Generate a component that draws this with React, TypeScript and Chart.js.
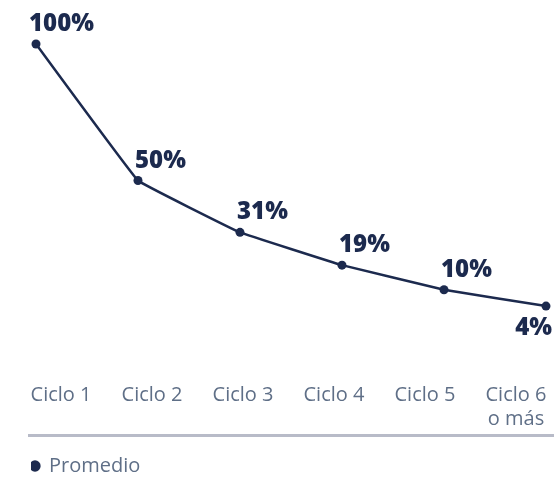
import React, { useEffect, useRef } from "react";
import { Chart, registerables } from "chart.js";

Chart.register(...registerables);

const categories = ["Ciclo 1", "Ciclo 2", "Ciclo 3", "Ciclo 4", "Ciclo 5", "Ciclo 6"];
const tickLabels: (string | string[])[] = ["Ciclo 1", "Ciclo 2", "Ciclo 3", "Ciclo 4", "Ciclo 5", ["Ciclo 6", "o más"]];
const seriesName = "Promedio";
const promedio = [100, 50, 31, 19, 10, 4];

const NAVY = "#1c2a4e";
const GREY_TEXT = "#5f6f87";

const valueLabels = {
  id: "valueLabels",
  afterDatasetsDraw(chart: any) {
    const ctx = chart.ctx;
    const meta = chart.getDatasetMeta(0);
    ctx.save();
    ctx.font = "800 24px 'Open Sans'";
    ctx.fillStyle = NAVY;
    meta.data.forEach((pt: any, i: number) => {
      const text = promedio[i] + "%";
      const last = i === meta.data.length - 1;
      if (last) {
        ctx.textAlign = "right";
        ctx.textBaseline = "top";
        ctx.fillText(text, pt.x + 6, pt.y + 10);
      } else {
        ctx.textAlign = "left";
        ctx.textBaseline = "alphabetic";
        ctx.fillText(text, pt.x - (i === 0 ? 7 : 3), pt.y - 13);
      }
    });
    ctx.restore();
  },
};

const separator = {
  id: "separator",
  afterDraw(chart: any) {
    const ctx = chart.ctx;
    const s = chart.scales.xl;
    const y = s.bottom - 20.5;
    ctx.save();
    ctx.strokeStyle = "#b8bbc8";
    ctx.lineWidth = 3;
    ctx.beginPath();
    ctx.moveTo(chart.chartArea.left - 8, y);
    ctx.lineTo(chart.width, y);
    ctx.stroke();
    ctx.restore();
  },
};

export default function App() {
  const ref = useRef<HTMLCanvasElement | null>(null);
  useEffect(() => {
    document.body.style.margin = "0";
    const chart = new Chart(ref.current as HTMLCanvasElement, {
      type: "line",
      data: {
        labels: categories,
        datasets: [
          {
            label: seriesName,
            data: promedio,
            borderColor: NAVY,
            backgroundColor: NAVY,
            borderWidth: 2.5,
            pointRadius: 4.5,
            pointBackgroundColor: NAVY,
            pointBorderWidth: 0,
            tension: 0.05,
            clip: false as any,
          },
        ],
      },
      options: {
        responsive: false,
        animation: false,
        layout: { padding: { left: 31, top: 44, right: 8, bottom: -9 } },
        scales: {
          x: { type: "category", display: false, offset: false },
          xl: {
            type: "linear",
            position: "bottom",
            min: -0.275,
            max: 5.33,
            grid: { display: false, drawTicks: false },
            border: { display: false },
            afterBuildTicks(scale: any) {
              scale.ticks = tickLabels.map((_, i) => ({ value: i }));
            },
            afterFit(scale: any) {
              scale.height = 139;
              scale.paddingLeft = 0;
              scale.paddingRight = 0;
            },
            ticks: {
              padding: 66,
              autoSkip: false,
              maxRotation: 0,
              color: GREY_TEXT,
              font: { family: "'Open Sans'", size: 20 },
              callback: (v: any) => tickLabels[v as number] as any,
            },
          },
          y: {
            min: 0,
            max: 100,
            grid: { display: false },
            border: { display: false },
            ticks: { display: false },
            afterFit(scale: any) {
              scale.width = 5;
            },
          },
        },
        plugins: {
          legend: {
            position: "bottom",
            align: "start",
            labels: {
              usePointStyle: true,
              pointStyle: "circle",
              boxWidth: 8,
              boxHeight: 8,
              padding: 0,
              color: GREY_TEXT,
              font: { family: "'Open Sans'", size: 20 },
            },
          },
          tooltip: { enabled: false },
        },
      },
      plugins: [valueLabels, separator],
    } as any);
    return () => chart.destroy();
  }, []);
  return <canvas ref={ref} width={554} height={477} style={{ display: "block" }} />;
}
